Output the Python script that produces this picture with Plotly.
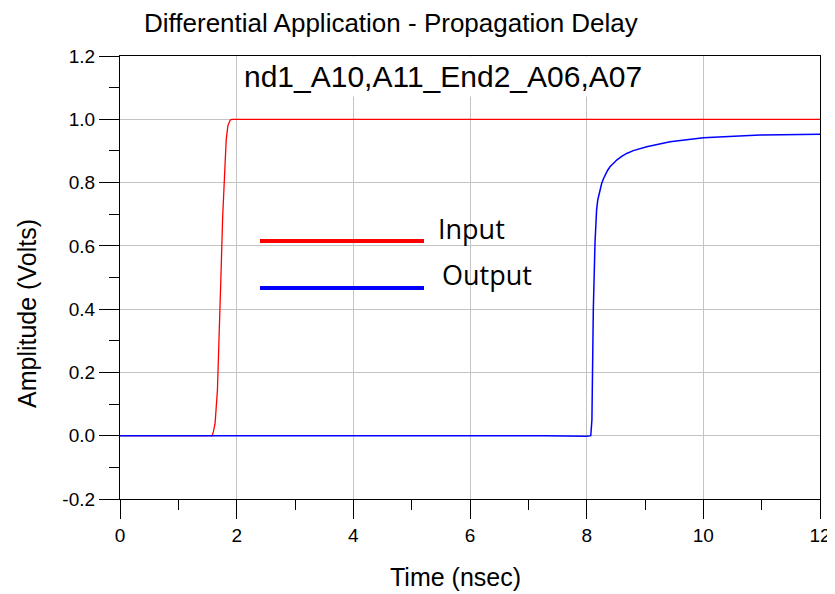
import plotly.graph_objects as go

# ---- data ----
t_input = [0, 1.58, 1.60, 1.63, 1.67, 1.70, 1.73, 1.76, 1.79, 1.82, 1.85, 1.87, 1.89, 1.92, 12.0]
v_input = [0, 0, 0.012, 0.039, 0.144, 0.292, 0.502, 0.692, 0.829, 0.934, 0.980, 0.993, 0.998, 1.0, 1.0]

t_output = [0, 7.0, 7.15, 7.3, 8.0, 8.07, 8.09, 8.10, 8.114, 8.143, 8.155, 8.17, 8.19, 8.217,
            8.235, 8.257, 8.29, 8.32, 8.36, 8.40, 8.46, 8.52, 8.60, 8.686, 8.80, 9.03, 9.43,
            10.0, 10.97, 12.0]
v_output = [0, 0, 0.002, 0, -0.002, 0, 0.05, 0.18, 0.40, 0.61, 0.68, 0.713, 0.745, 0.768,
            0.783, 0.797, 0.813, 0.826, 0.839, 0.850, 0.862, 0.872, 0.883, 0.892, 0.901, 0.913,
            0.929, 0.942, 0.950, 0.953]

x_ticks = [0, 2, 4, 6, 8, 10, 12]
y_ticks = [-0.2, 0.0, 0.2, 0.4, 0.6, 0.8, 1.0, 1.2]
y_tick_labels = ["-0.2", "0.0", "0.2", "0.4", "0.6", "0.8", "1.0", "1.2"]

series_names = ["Input", "Output"]
series_colors = ["#ff0000", "#0000ff"]

title_text = "Differential Application - Propagation Delay"
box_text = "nd1_A10,A11_End2_A06,A07"
x_title = "Time (nsec)"
y_title = "Amplitude (Volts)"

# ---- layout geometry (page pixels; the page body adds an 8px offset) ----
OFF = 8
W, H = 835 - OFF, 594 - OFF
PL, PR, PT, PB = 120, 820, 56, 499          # plot area in page pixels
L, T = PL - OFF, PT - OFF
R, B = W - (PR - OFF), H - (PB - OFF)
pw, ph = PR - PL, PB - PT


def px(x):
    return (x - PL) / pw


def py(y):
    return (PB - y) / ph


fig = go.Figure()
fig.add_trace(go.Scatter(x=t_input, y=v_input, mode="lines", name=series_names[0],
                         line=dict(color=series_colors[0], width=1.3), showlegend=False))
fig.add_trace(go.Scatter(x=t_output, y=v_output, mode="lines", name=series_names[1],
                         line=dict(color=series_colors[1], width=1.5), showlegend=False))

FONT = "Liberation Sans, Arial, sans-serif"
axis_font = dict(family=FONT, size=19, color="#000000")

fig.update_layout(
    width=W, height=H,
    margin=dict(l=L, r=R, t=T, b=B, autoexpand=False),
    paper_bgcolor="white", plot_bgcolor="white",
    showlegend=False,
    xaxis=dict(range=[0, 12], tickvals=x_ticks, ticktext=[str(v) for v in x_ticks],
               automargin=False,
               showgrid=True, gridcolor="#c4c4c4", gridwidth=1,
               showline=True, linecolor="#000000", linewidth=1.2, mirror=True,
               ticks="outside", ticklen=19, tickcolor="#000000", tickwidth=1,
               minor=dict(dtick=1, tick0=0, ticks="outside", ticklen=10, tickcolor="#000000",
                          showgrid=False),
               tickfont=axis_font, zeroline=False),
    yaxis=dict(range=[-0.2, 1.2], tickvals=y_ticks, ticktext=y_tick_labels,
               automargin=False,
               showgrid=True, gridcolor="#c4c4c4", gridwidth=1,
               showline=True, linecolor="#000000", linewidth=1.2, mirror=True,
               ticks="outside", ticklen=20, tickcolor="#000000", tickwidth=1,
               minor=dict(dtick=0.1, tick0=0, ticks="outside", ticklen=10, tickcolor="#000000",
                          showgrid=False),
               tickfont=axis_font, zeroline=False),
)

# title and axis titles
fig.add_annotation(text=title_text, xref="paper", yref="paper", x=px(391), y=py(23),
                   showarrow=False, xanchor="center", yanchor="middle", borderpad=0,
                   font=dict(family=FONT, size=26, color="#000000"))
fig.add_annotation(text=x_title, xref="paper", yref="paper", x=px(455), y=py(577),
                   showarrow=False, xanchor="center", yanchor="middle",
                   font=dict(family=FONT, size=25, color="#000000"))
fig.add_annotation(text=y_title, xref="paper", yref="paper", x=px(27), y=py(313),
                   showarrow=False, xanchor="center", yanchor="middle", textangle=-90,
                   font=dict(family=FONT, size=25, color="#000000"))

# clipped text box near the top
fig.add_annotation(text=box_text, xref="paper", yref="paper", x=px(240), y=py(77),
                   showarrow=False, xanchor="left", yanchor="middle",
                   bgcolor="white", borderpad=3,
                   font=dict(family=FONT, size=30, color="#000000"))

# legend box
fig.add_shape(type="rect", xref="paper", yref="paper",
              x0=px(252), x1=px(552), y0=py(302), y1=py(214),
              fillcolor="white", line=dict(width=0), layer="between")
leg_y = [241, 288]
leg_text_x = [436, 440]
leg_text_y = [229, 274]
for i in range(2):
    fig.add_shape(type="line", xref="paper", yref="paper",
                  x0=px(260), x1=px(424), y0=py(leg_y[i]), y1=py(leg_y[i]),
                  line=dict(color=series_colors[i], width=4), layer="above")
    fig.add_annotation(text=series_names[i], xref="paper", yref="paper",
                       x=px(leg_text_x[i]), y=py(leg_text_y[i]),
                       showarrow=False, xanchor="left", yanchor="middle",
                       font=dict(family="Open Sans, Noto Sans, sans-serif", size=27, color="#000000"))

fig.write_html("out.html")
